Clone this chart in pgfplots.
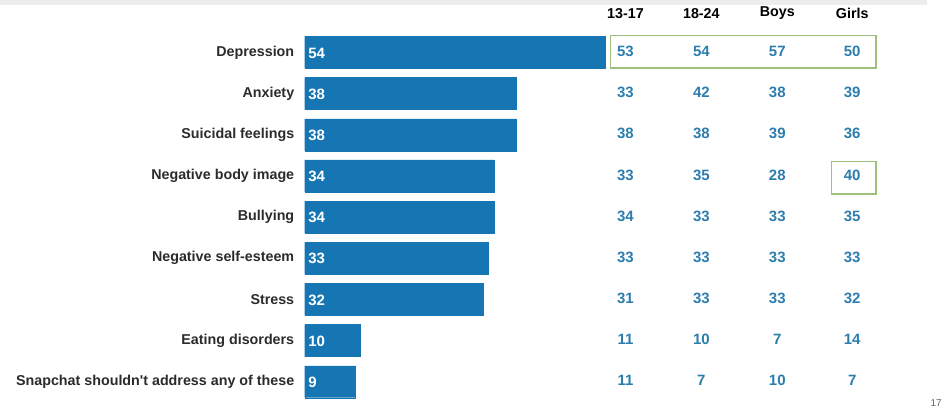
\documentclass[border=0pt]{standalone}
\usepackage{pgfplots}
\pgfplotsset{compat=1.18}
\usepackage{pgfplotstable}
\usepackage{fontspec}
\setmainfont{Liberation Sans}
\definecolor{barblue}{HTML}{1676B4}
\definecolor{numblue}{HTML}{2C7DAE}
\definecolor{boxgreen}{HTML}{9DC07B}
\definecolor{labgray}{HTML}{2B2B2B}

\pgfplotstableread[col sep=comma]{
label,total,a,b,boys,girls
Depression,54,53,54,57,50
Anxiety,38,33,42,38,39
Suicidal feelings,38,38,38,39,36
Negative body image,34,33,35,28,40
Bullying,34,34,33,33,35
Negative self-esteem,33,33,33,33,33
Stress,32,31,33,33,32
Eating disorders,10,11,10,7,14
Snapchat shouldn\textquotesingle t address any of these,9,11,7,10,7
}\data

\begin{document}
\begin{tikzpicture}
\begin{axis}[
  scale only axis, width=945pt, height=420pt,
  xmin=-54.72, xmax=114.82, ymin=-1.2743, ymax=8.9199, y dir=reverse,
  axis line style={draw=none}, tick style={draw=none},
  xtick=\empty, ytick={0,...,8},
  yticklabels from table={\data}{label},
  yticklabel style={anchor=east, xshift=298pt, font=\fontsize{14.3}{16}\selectfont\bfseries, text=labgray},
  clip=false,
  tablecol/.style={draw=none, mark=none, nodes near coords, point meta=explicit symbolic,
    every node near coord/.append style={anchor=center, text=numblue, yshift=1pt,
      font=\fontsize{15}{16}\selectfont\bfseries}},
]
\fill[gray!14] (axis cs:-54.72,-1.2743) rectangle (axis cs:111.77,-1.153);
\addplot[xbar, bar width=32pt, fill=barblue, draw=barblue] table[x=total, y expr=\coordindex]{\data};
\addplot[draw=none, mark=none, nodes near coords, point meta=explicit symbolic,
  every node near coord/.append style={anchor=west, text=white, yshift=-0.5pt, font=\fontsize{15}{16}\selectfont\bfseries}]
  table[x expr=0, y expr=\coordindex, meta=total]{\data};
\addplot[tablecol] table[x expr=57.59, y expr=\coordindex, meta=a]{\data};
\addplot[tablecol] table[x expr=71.22, y expr=\coordindex, meta=b]{\data};
\addplot[tablecol] table[x expr=84.86, y expr=\coordindex, meta=boys]{\data};
\addplot[tablecol] table[x expr=98.31, y expr=\coordindex, meta=girls]{\data};
\begin{scope}[font=\fontsize{14.3}{16}\selectfont\bfseries, text=black]
\node at (axis cs:57.59,-0.95) {13-17};
\node at (axis cs:71.22,-0.95) {18-24};
\node at (axis cs:84.86,-0.95) {Boys};
\node at (axis cs:98.31,-0.95) {Girls};
\end{scope}
\draw[boxgreen, line width=1.5pt] (axis cs:54.90,-0.408) rectangle (axis cs:102.55,0.383);
\draw[boxgreen, line width=1.5pt] (axis cs:94.55,2.650) rectangle (axis cs:102.55,3.442);
\node[text=gray!80!black, font=\fontsize{10}{11}\selectfont] at (axis cs:113.38,8.507) {17};
\end{axis}
\end{tikzpicture}
\end{document}
